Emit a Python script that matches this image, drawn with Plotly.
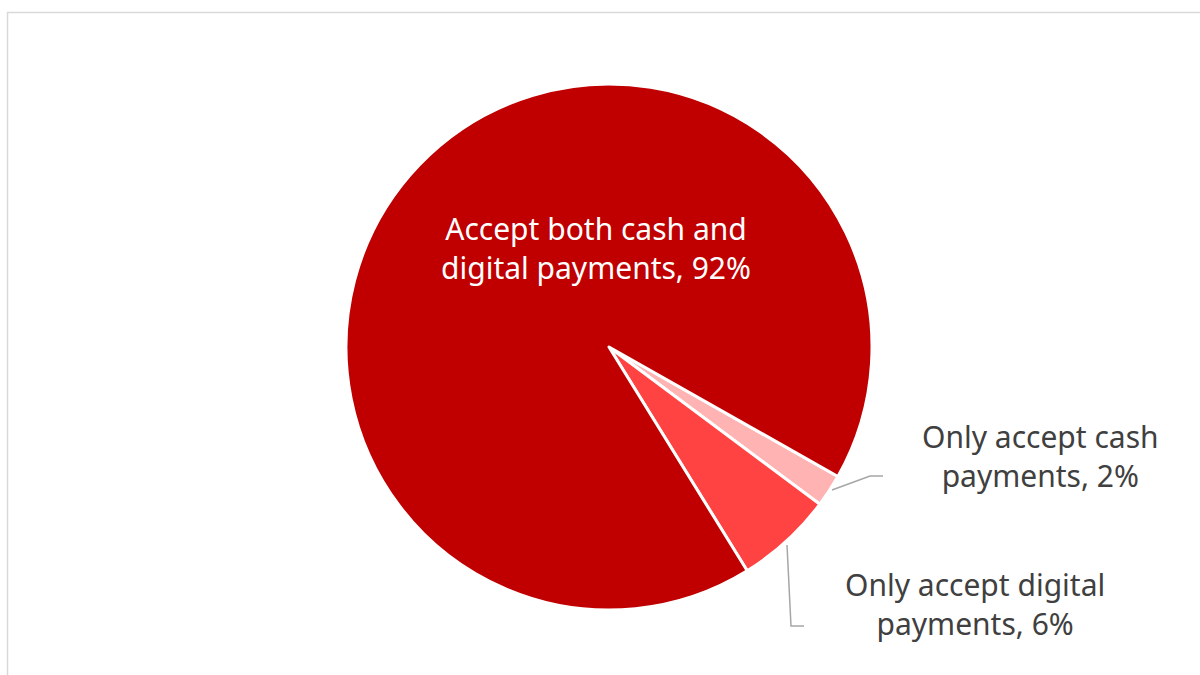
import plotly.graph_objects as go

# Share of merchants by accepted payment method
categories = ["Only accept cash payments", "Only accept digital payments",
              "Accept both cash and digital payments"]
shares = [2, 6, 92]
colors = ["#FFB3B3", "#FF4343", "#C00000"]

W, H = 1200, 675
cx, cy, r = 609, 347, 263  # pie centre and radius in pixels


def px(x):
    return x / W


def py(y):
    return 1 - y / H


fig = go.Figure(go.Pie(
    labels=categories,
    values=shares,
    sort=False,
    direction="clockwise",
    rotation=119.5,
    marker=dict(colors=colors, line=dict(color="white", width=3)),
    textinfo="none",
    hoverinfo="label+percent",
    showlegend=False,
    domain=dict(x=[px(cx - r), px(cx + r)], y=[py(cy + r), py(cy - r)]),
))


def label_text(name, val):
    # split each category name into two lines, as drawn on the slices
    splits = {
        categories[0]: ("Only accept cash", "payments"),
        categories[1]: ("Only accept digital", "payments"),
        categories[2]: ("Accept both cash and", "digital payments"),
    }
    a, b = splits[name]
    return f"{a}<br>{b}, {val}%"


font_family = "Noto Sans, Lato, sans-serif"
label_pos = [(1040, 456, "#404040"), (975, 604, "#404040"), (596, 248, "white")]

for name, val, (x, y, c) in zip(categories, shares, label_pos):
    fig.add_annotation(
        x=px(x), y=py(y), xref="paper", yref="paper",
        text=label_text(name, val), showarrow=False,
        font=dict(family=font_family, size=30, color=c),
        align="center", xanchor="center", yanchor="middle",
    )

# leader lines for the two small slices
leaders = [
    [(832, 490), (870, 476), (883, 476)],
    [(787, 545), (791, 626), (804, 626)],
]
for pts in leaders:
    path = "M " + " L ".join(f"{px(x)},{py(y)}" for x, y in pts)
    fig.add_shape(type="path", path=path, xref="paper", yref="paper",
                  line=dict(color="#A6A6A6", width=1.5))

# chart area border (runs past the right and bottom edges)
fig.add_shape(type="rect", xref="paper", yref="paper",
              x0=px(7.5), y0=py(690), x1=px(1215), y1=py(12.5),
              line=dict(color="#D9D9D9", width=1.5), fillcolor="rgba(0,0,0,0)")

fig.update_layout(
    width=W, height=H,
    margin=dict(l=0, r=0, t=0, b=0),
    paper_bgcolor="white",
    plot_bgcolor="white",
)

fig.write_html("out.html")
